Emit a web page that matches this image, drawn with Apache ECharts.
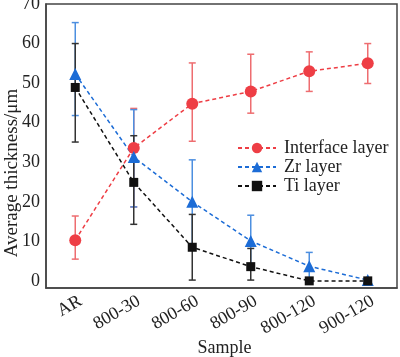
<!DOCTYPE html>
<html>
<head>
<meta charset="utf-8">
<script src="https://cdn.jsdelivr.net/npm/echarts@6/dist/echarts.min.js"></script>
<style>
html,body{margin:0;padding:0;background:#fff;}
#chart{width:400px;height:357px;}
</style>
</head>
<body>
<div id="chart"></div>
<script>
var categories = ['AR', '800-30', '800-60', '800-90', '800-120', '900-120'];
var yTicks = [0, 10, 20, 30, 40, 50, 60, 70];
var yTitle = 'Average thickness/μm';
var xTitle = 'Sample';

var interfaceMean = [10.3, 33.6, 44.8, 47.9, 53.0, 55.0];
var interfaceLow  = [5.5, 18.7, 35.3, 42.4, 47.9, 49.9];
var interfaceHigh = [16.4, 43.6, 55.1, 57.3, 57.9, 60.0];

var zrMean = [52.3, 31.3, 20.0, 10.1, 3.7, 0.2];
var zrLow  = [41.8, 18.7, 9.0, 3.6, 0.2, 0.0];
var zrHigh = [65.3, 43.3, 30.6, 16.6, 7.2, 0.4];

var tiMean = [48.9, 24.9, 8.5, 3.6, 0.0, 0.0];
var tiLow  = [35.1, 14.3, 0.2, 0.2, 0.0, 0.0];
var tiHigh = [60.0, 36.7, 16.8, 8.2, 0.0, 0.0];

var RED = '#ee3e45', BLUE = '#1c6cd6', BLACK = '#111111';
var RED_E = '#ee6d70', BLUE_E = '#4d8fe0', BLACK_E = '#333333';

function errData(low, high) {
  return categories.map(function (c, i) { return [i, low[i], high[i]]; });
}
function errSeries(name, low, high, color) {
  return {
    type: 'custom',
    name: name + ' err',
    z: 1,
    silent: true,
    data: errData(low, high),
    renderItem: function (params, api) {
      var x = api.coord([api.value(0), 0])[0];
      var yl = api.coord([api.value(0), api.value(1)])[1];
      var yh = api.coord([api.value(0), api.value(2)])[1];
      var hw = 3.5;
      var st = { stroke: color, lineWidth: 1.5, fill: null };
      return {
        type: 'group',
        children: [
          { type: 'line', shape: { x1: x, y1: yl, x2: x, y2: yh }, style: st },
          { type: 'line', shape: { x1: x - hw, y1: yh, x2: x + hw, y2: yh }, style: st },
          { type: 'line', shape: { x1: x - hw, y1: yl, x2: x + hw, y2: yl }, style: st }
        ]
      };
    }
  };
}
function lineSeries(name, data, color, symbol, size) {
  return {
    type: 'line',
    name: name,
    data: data,
    z: 3,
    symbol: symbol,
    symbolSize: size,
    showAllSymbol: true,
    itemStyle: { color: color, borderWidth: 0 },
    lineStyle: { color: color, width: 1.5, type: [4, 3] },
    emphasis: { disabled: true }
  };
}

var chart = echarts.init(document.getElementById('chart'), null, { renderer: 'canvas' });
var FONT = 'Liberation Serif';
chart.setOption({
  animation: false,
  backgroundColor: '#fff',
  textStyle: { fontFamily: FONT },
  grid: { left: 46, right: 3, top: 4, bottom: 69, containLabel: false, outerBoundsMode: 'none', show: true, borderColor: '#444', borderWidth: 1.5, backgroundColor: 'transparent' },
  legend: {
    left: 237, top: 139, orient: 'vertical', padding: 0,
    itemWidth: 38, itemHeight: 13, itemGap: 1,
    textStyle: { fontFamily: FONT, fontSize: 18, color: '#222', padding: [0, 0, 0, 3] },
    data: ['Interface layer', 'Zr layer', 'Ti layer']
  },
  graphic: [{
    type: 'text',
    x: 12, y: 173,
    rotation: Math.PI / 2,
    style: {
      text: yTitle,
      font: '19px "Liberation Serif"',
      fill: '#222',
      align: 'center',
      verticalAlign: 'middle'
    }
  }],
  xAxis: {
    type: 'category',
    data: categories,
    boundaryGap: true,
    name: xTitle,
    nameLocation: 'middle',
    nameGap: 51,
    nameMoveOverlap: false,
    nameTextStyle: { fontFamily: FONT, fontSize: 18, color: '#222', padding: [0, 0, 0, 6] },
    axisLine: { onZero: false, lineStyle: { color: '#444', width: 1.5 } },
    axisTick: { alignWithLabel: true, inside: true, length: 4, lineStyle: { color: '#444' } },
    axisLabel: { rotate: 30, fontFamily: FONT, fontSize: 18, color: '#222', margin: 15, padding: [0, -6, 0, 0], interval: 0 },
    splitLine: { show: false }
  },
  yAxis: {
    type: 'value',
    min: -1.8,
    max: 70,
    axisLine: { show: true, lineStyle: { color: '#444', width: 1.5 } },
    axisTick: { inside: true, length: 4, lineStyle: { color: '#444' }, customValues: yTicks },
    axisLabel: { fontFamily: FONT, fontSize: 18, color: '#222', margin: 6, customValues: yTicks },
    splitLine: { show: false }
  },
  series: [
    errSeries('Interface layer', interfaceLow, interfaceHigh, RED_E),
    errSeries('Zr layer', zrLow, zrHigh, BLUE_E),
    errSeries('Ti layer', tiLow, tiHigh, BLACK_E),
    lineSeries('Interface layer', interfaceMean, RED, 'circle', 12),
    lineSeries('Zr layer', zrMean, BLUE, 'triangle', 12),
    lineSeries('Ti layer', tiMean, BLACK, 'rect', 9)
  ]
});
</script>
</body>
</html>
